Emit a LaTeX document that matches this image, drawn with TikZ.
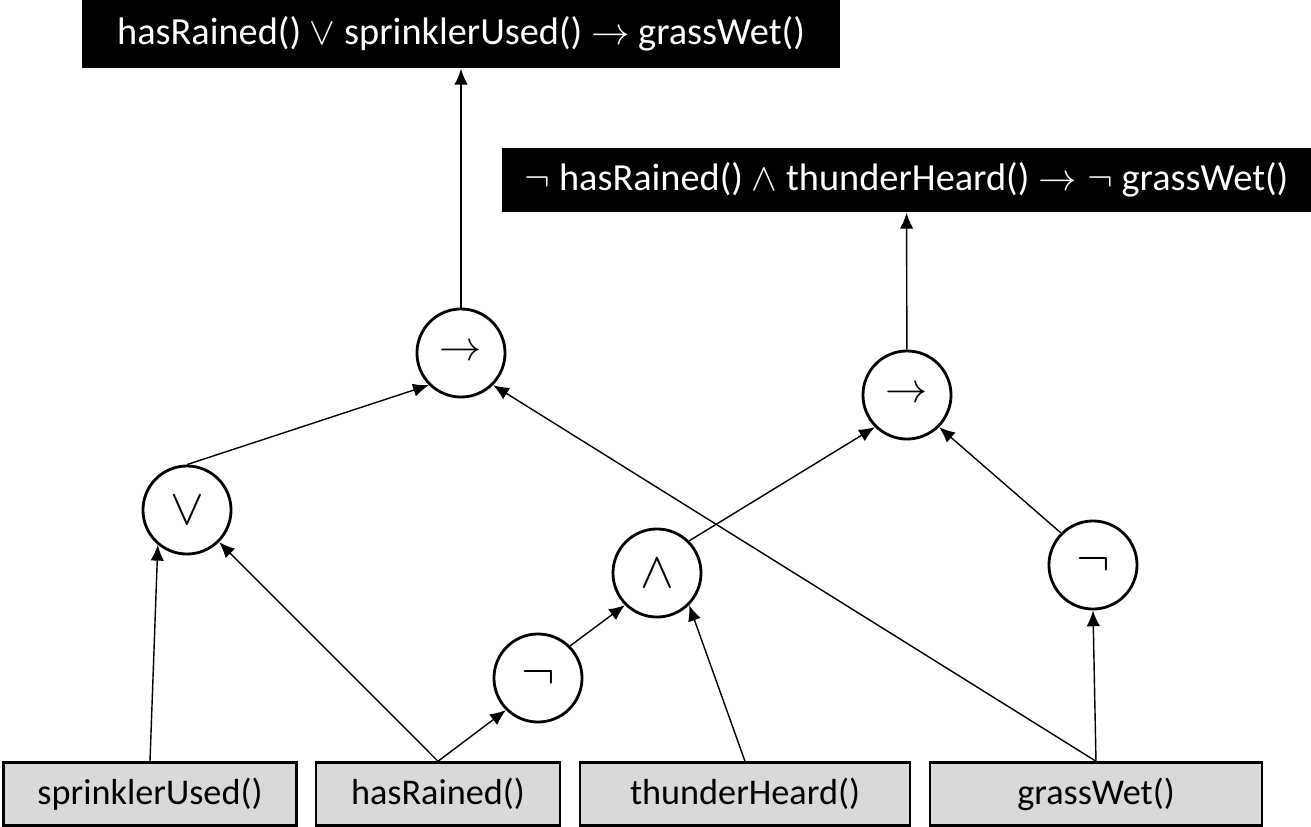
\documentclass[tikz,border=0pt]{standalone}
\usepackage{fontspec}
\setmainfont{Carlito}
\usepackage{tikz}
\usetikzlibrary{arrows.meta}
\usetikzlibrary{positioning}

\begin{document}
\begin{tikzpicture}[x=0.01cm, y=-0.01cm,
    op/.style={circle, draw, line width=0.8pt, minimum size=0.88cm, inner sep=0pt},
    leaf/.style={draw, line width=0.7pt, fill=black!15, minimum height=0.63cm, inner sep=0pt,
      font=\fontsize{10.3}{12}\selectfont},
    goal/.style={fill=black, text=white, inner sep=0pt, font=\fontsize{10.9}{13}\selectfont},
    edge/.style={-{Latex[length=4.5pt,width=3.8pt]}, line width=0.4pt}]
      \useasboundingbox (0,0) rectangle (1311,827);
      % rules at the top
      \node[goal, minimum width=7.58cm, minimum height=0.68cm] (rule1) at (461,34)
        {hasRained() $\vee$ sprinklerUsed() $\rightarrow$ grassWet()};
      \node[goal, minimum width=8.09cm, minimum height=0.64cm] (rule2) at (906.5,180)
        {$\neg$ hasRained() $\wedge$ thunderHeard() $\rightarrow\neg$ grassWet()};
      % operators
      \node[op] (imp1) at (461,353) {\large$\rightarrow$};
      \node[op] (imp2) at (907,395) {\large$\rightarrow$};
      \node[op] (or) at (187,510) {\Large$\vee$};
      \node[op] (and) at (657,573) {\Large$\wedge$};
      \node[op] (not1) at (538,678) {\Large$\neg$};
      \node[op] (not2) at (1093,565) {\Large$\neg$};
      % inputs
      \node[leaf, minimum width=2.93cm] (sprinkler) at (150,794) {sprinklerUsed()};
      \node[leaf, minimum width=2.44cm] (rained) at (438,794) {hasRained()};
      \node[leaf, minimum width=3.30cm] (thunder) at (745,794) {thunderHeard()};
      \node[leaf, minimum width=3.32cm] (grass) at (1096,794) {grassWet()};
      % connectors
      \draw[edge] (imp1) -- (rule1);
      \draw[edge] (imp2) -- (rule2);
      \draw[edge] (or.north) -- (imp1.225);
      \draw[edge] (grass.north) -- (imp1.315);
      \draw[edge] (and.45) -- (imp2.225);
      \draw[edge] (not2.135) -- (imp2.315);
      \draw[edge] (sprinkler.north) -- (or.230);
      \draw[edge] (rained.north) -- (or.315);
      \draw[edge] (rained.north) -- (not1.225);
      \draw[edge] (not1.45) -- (and.225);
      \draw[edge] (thunder.north) -- (and.315);
      \draw[edge] (grass.north) -- (not2.south);
\end{tikzpicture}
\end{document}
